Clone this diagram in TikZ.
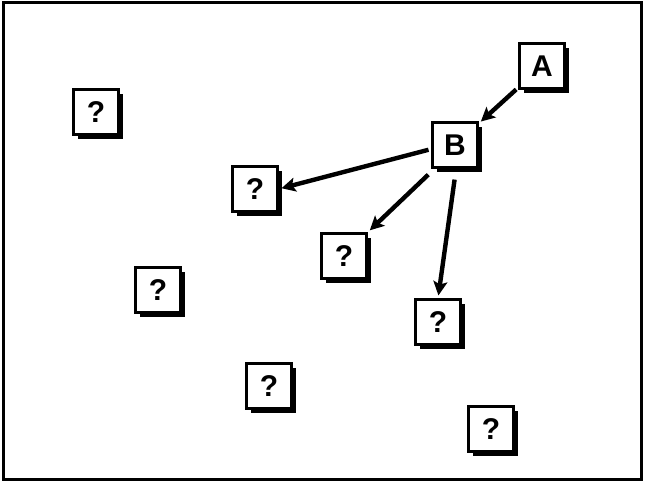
\documentclass[tikz,border=0pt]{standalone}
\usepackage{fontspec}
\setmainfont{Liberation Sans}
\usetikzlibrary{arrows.meta,shadows}
\begin{document}
\begin{tikzpicture}[x=1pt,y=-1pt,
  card/.style={draw=black, line width=2.2pt, fill=white,
    minimum width=45pt, minimum height=45pt, inner sep=0pt,
    font=\fontsize{30}{30}\selectfont\bfseries,
    drop shadow={shadow xshift=4pt, shadow yshift=-4pt, opacity=1, fill=black}},
  link/.style={line width=4.4pt, -{Stealth[length=14pt,width=14pt,inset=3pt]},
    shorten <=3pt, shorten >=3pt}]
  \useasboundingbox (0,0) rectangle (647,483);
  \draw[line width=3pt] (3,2) rectangle (641,479);

  \node[card] (A) at (542,66) {A};
  \node[card] (B) at (455,145) {B};
  \node[card] (q1) at (96,112) {?};
  \node[card] (q2) at (255,189) {?};
  \node[card] (q3) at (344,256) {?};
  \node[card] (q4) at (158,290) {?};
  \node[card] (q5) at (438,322) {?};
  \node[card] (q6) at (269,386) {?};
  \node[card] (q7) at (491,429) {?};

  \draw[link] (A) -- (B);
  \draw[link] (B.west) ++(0,4) coordinate (b1) (b1) -- (q2.east);
  \draw[link] (B.south west) ++(-1,4) coordinate (b2) (b2) -- (q3.north east);
  \draw[link] (B.south) ++(0,8) coordinate (b3) (b3) -- (q5.north);
\end{tikzpicture}
\end{document}
